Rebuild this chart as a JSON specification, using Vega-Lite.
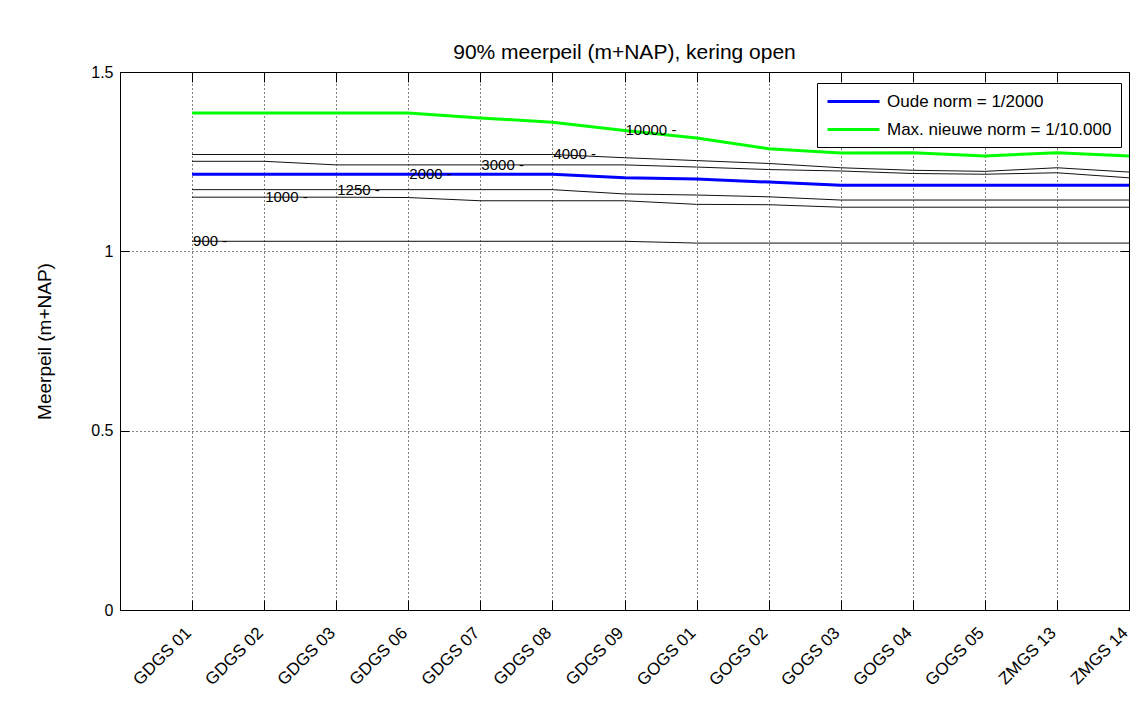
{
  "$schema": "https://vega.github.io/schema/vega-lite/v6.json",
  "width": 1009,
  "height": 538,
  "autosize": {"type": "none"},
  "padding": {"left": 120, "top": 72, "right": 13, "bottom": 105},
  "background": "white",
  "title": {"text": "90% meerpeil (m+NAP), kering open", "fontSize": 21, "font": "Liberation Sans", "fontWeight": "normal", "color": "black", "offset": 1, "anchor": "middle"},
  "datasets": {
    "lines": [
      {"idx": 1, "station": "GDGS 01", "contour": 900, "level": 1.028, "norm": ""},
      {"idx": 2, "station": "GDGS 02", "contour": 900, "level": 1.028, "norm": ""},
      {"idx": 3, "station": "GDGS 03", "contour": 900, "level": 1.028, "norm": ""},
      {"idx": 4, "station": "GDGS 06", "contour": 900, "level": 1.028, "norm": ""},
      {"idx": 5, "station": "GDGS 07", "contour": 900, "level": 1.028, "norm": ""},
      {"idx": 6, "station": "GDGS 08", "contour": 900, "level": 1.028, "norm": ""},
      {"idx": 7, "station": "GDGS 09", "contour": 900, "level": 1.028, "norm": ""},
      {"idx": 8, "station": "GOGS 01", "contour": 900, "level": 1.023, "norm": ""},
      {"idx": 9, "station": "GOGS 02", "contour": 900, "level": 1.023, "norm": ""},
      {"idx": 10, "station": "GOGS 03", "contour": 900, "level": 1.023, "norm": ""},
      {"idx": 11, "station": "GOGS 04", "contour": 900, "level": 1.023, "norm": ""},
      {"idx": 12, "station": "GOGS 05", "contour": 900, "level": 1.023, "norm": ""},
      {"idx": 13, "station": "ZMGS 13", "contour": 900, "level": 1.023, "norm": ""},
      {"idx": 14, "station": "ZMGS 14", "contour": 900, "level": 1.023, "norm": ""},

      {"idx": 1, "station": "GDGS 01", "contour": 1000, "level": 1.151, "norm": ""},
      {"idx": 2, "station": "GDGS 02", "contour": 1000, "level": 1.151, "norm": ""},
      {"idx": 3, "station": "GDGS 03", "contour": 1000, "level": 1.151, "norm": ""},
      {"idx": 4, "station": "GDGS 06", "contour": 1000, "level": 1.150, "norm": ""},
      {"idx": 5, "station": "GDGS 07", "contour": 1000, "level": 1.141, "norm": ""},
      {"idx": 6, "station": "GDGS 08", "contour": 1000, "level": 1.141, "norm": ""},
      {"idx": 7, "station": "GDGS 09", "contour": 1000, "level": 1.141, "norm": ""},
      {"idx": 8, "station": "GOGS 01", "contour": 1000, "level": 1.131, "norm": ""},
      {"idx": 9, "station": "GOGS 02", "contour": 1000, "level": 1.130, "norm": ""},
      {"idx": 10, "station": "GOGS 03", "contour": 1000, "level": 1.123, "norm": ""},
      {"idx": 11, "station": "GOGS 04", "contour": 1000, "level": 1.123, "norm": ""},
      {"idx": 12, "station": "GOGS 05", "contour": 1000, "level": 1.123, "norm": ""},
      {"idx": 13, "station": "ZMGS 13", "contour": 1000, "level": 1.123, "norm": ""},
      {"idx": 14, "station": "ZMGS 14", "contour": 1000, "level": 1.123, "norm": ""},

      {"idx": 1, "station": "GDGS 01", "contour": 1250, "level": 1.172, "norm": ""},
      {"idx": 2, "station": "GDGS 02", "contour": 1250, "level": 1.172, "norm": ""},
      {"idx": 3, "station": "GDGS 03", "contour": 1250, "level": 1.172, "norm": ""},
      {"idx": 4, "station": "GDGS 06", "contour": 1250, "level": 1.172, "norm": ""},
      {"idx": 5, "station": "GDGS 07", "contour": 1250, "level": 1.172, "norm": ""},
      {"idx": 6, "station": "GDGS 08", "contour": 1250, "level": 1.172, "norm": ""},
      {"idx": 7, "station": "GDGS 09", "contour": 1250, "level": 1.160, "norm": ""},
      {"idx": 8, "station": "GOGS 01", "contour": 1250, "level": 1.157, "norm": ""},
      {"idx": 9, "station": "GOGS 02", "contour": 1250, "level": 1.152, "norm": ""},
      {"idx": 10, "station": "GOGS 03", "contour": 1250, "level": 1.143, "norm": ""},
      {"idx": 11, "station": "GOGS 04", "contour": 1250, "level": 1.143, "norm": ""},
      {"idx": 12, "station": "GOGS 05", "contour": 1250, "level": 1.143, "norm": ""},
      {"idx": 13, "station": "ZMGS 13", "contour": 1250, "level": 1.143, "norm": ""},
      {"idx": 14, "station": "ZMGS 14", "contour": 1250, "level": 1.143, "norm": ""},

      {"idx": 1, "station": "GDGS 01", "contour": 3000, "level": 1.251, "norm": ""},
      {"idx": 2, "station": "GDGS 02", "contour": 3000, "level": 1.251, "norm": ""},
      {"idx": 3, "station": "GDGS 03", "contour": 3000, "level": 1.241, "norm": ""},
      {"idx": 4, "station": "GDGS 06", "contour": 3000, "level": 1.241, "norm": ""},
      {"idx": 5, "station": "GDGS 07", "contour": 3000, "level": 1.241, "norm": ""},
      {"idx": 6, "station": "GDGS 08", "contour": 3000, "level": 1.241, "norm": ""},
      {"idx": 7, "station": "GDGS 09", "contour": 3000, "level": 1.241, "norm": ""},
      {"idx": 8, "station": "GOGS 01", "contour": 3000, "level": 1.235, "norm": ""},
      {"idx": 9, "station": "GOGS 02", "contour": 3000, "level": 1.228, "norm": ""},
      {"idx": 10, "station": "GOGS 03", "contour": 3000, "level": 1.224, "norm": ""},
      {"idx": 11, "station": "GOGS 04", "contour": 3000, "level": 1.217, "norm": ""},
      {"idx": 12, "station": "GOGS 05", "contour": 3000, "level": 1.215, "norm": ""},
      {"idx": 13, "station": "ZMGS 13", "contour": 3000, "level": 1.219, "norm": ""},
      {"idx": 14, "station": "ZMGS 14", "contour": 3000, "level": 1.205, "norm": ""},

      {"idx": 1, "station": "GDGS 01", "contour": 4000, "level": 1.270, "norm": ""},
      {"idx": 2, "station": "GDGS 02", "contour": 4000, "level": 1.270, "norm": ""},
      {"idx": 3, "station": "GDGS 03", "contour": 4000, "level": 1.270, "norm": ""},
      {"idx": 4, "station": "GDGS 06", "contour": 4000, "level": 1.270, "norm": ""},
      {"idx": 5, "station": "GDGS 07", "contour": 4000, "level": 1.270, "norm": ""},
      {"idx": 6, "station": "GDGS 08", "contour": 4000, "level": 1.270, "norm": ""},
      {"idx": 7, "station": "GDGS 09", "contour": 4000, "level": 1.261, "norm": ""},
      {"idx": 8, "station": "GOGS 01", "contour": 4000, "level": 1.253, "norm": ""},
      {"idx": 9, "station": "GOGS 02", "contour": 4000, "level": 1.245, "norm": ""},
      {"idx": 10, "station": "GOGS 03", "contour": 4000, "level": 1.233, "norm": ""},
      {"idx": 11, "station": "GOGS 04", "contour": 4000, "level": 1.226, "norm": ""},
      {"idx": 12, "station": "GOGS 05", "contour": 4000, "level": 1.223, "norm": ""},
      {"idx": 13, "station": "ZMGS 13", "contour": 4000, "level": 1.233, "norm": ""},
      {"idx": 14, "station": "ZMGS 14", "contour": 4000, "level": 1.221, "norm": ""},

      {"idx": 1, "station": "GDGS 01", "contour": 2000, "level": 1.215, "norm": "Oude norm = 1/2000"},
      {"idx": 2, "station": "GDGS 02", "contour": 2000, "level": 1.215, "norm": "Oude norm = 1/2000"},
      {"idx": 3, "station": "GDGS 03", "contour": 2000, "level": 1.215, "norm": "Oude norm = 1/2000"},
      {"idx": 4, "station": "GDGS 06", "contour": 2000, "level": 1.215, "norm": "Oude norm = 1/2000"},
      {"idx": 5, "station": "GDGS 07", "contour": 2000, "level": 1.215, "norm": "Oude norm = 1/2000"},
      {"idx": 6, "station": "GDGS 08", "contour": 2000, "level": 1.215, "norm": "Oude norm = 1/2000"},
      {"idx": 7, "station": "GDGS 09", "contour": 2000, "level": 1.205, "norm": "Oude norm = 1/2000"},
      {"idx": 8, "station": "GOGS 01", "contour": 2000, "level": 1.202, "norm": "Oude norm = 1/2000"},
      {"idx": 9, "station": "GOGS 02", "contour": 2000, "level": 1.193, "norm": "Oude norm = 1/2000"},
      {"idx": 10, "station": "GOGS 03", "contour": 2000, "level": 1.184, "norm": "Oude norm = 1/2000"},
      {"idx": 11, "station": "GOGS 04", "contour": 2000, "level": 1.184, "norm": "Oude norm = 1/2000"},
      {"idx": 12, "station": "GOGS 05", "contour": 2000, "level": 1.184, "norm": "Oude norm = 1/2000"},
      {"idx": 13, "station": "ZMGS 13", "contour": 2000, "level": 1.184, "norm": "Oude norm = 1/2000"},
      {"idx": 14, "station": "ZMGS 14", "contour": 2000, "level": 1.184, "norm": "Oude norm = 1/2000"},

      {"idx": 1, "station": "GDGS 01", "contour": 10000, "level": 1.386, "norm": "Max. nieuwe norm = 1/10.000"},
      {"idx": 2, "station": "GDGS 02", "contour": 10000, "level": 1.386, "norm": "Max. nieuwe norm = 1/10.000"},
      {"idx": 3, "station": "GDGS 03", "contour": 10000, "level": 1.386, "norm": "Max. nieuwe norm = 1/10.000"},
      {"idx": 4, "station": "GDGS 06", "contour": 10000, "level": 1.386, "norm": "Max. nieuwe norm = 1/10.000"},
      {"idx": 5, "station": "GDGS 07", "contour": 10000, "level": 1.372, "norm": "Max. nieuwe norm = 1/10.000"},
      {"idx": 6, "station": "GDGS 08", "contour": 10000, "level": 1.360, "norm": "Max. nieuwe norm = 1/10.000"},
      {"idx": 7, "station": "GDGS 09", "contour": 10000, "level": 1.337, "norm": "Max. nieuwe norm = 1/10.000"},
      {"idx": 8, "station": "GOGS 01", "contour": 10000, "level": 1.316, "norm": "Max. nieuwe norm = 1/10.000"},
      {"idx": 9, "station": "GOGS 02", "contour": 10000, "level": 1.286, "norm": "Max. nieuwe norm = 1/10.000"},
      {"idx": 10, "station": "GOGS 03", "contour": 10000, "level": 1.274, "norm": "Max. nieuwe norm = 1/10.000"},
      {"idx": 11, "station": "GOGS 04", "contour": 10000, "level": 1.275, "norm": "Max. nieuwe norm = 1/10.000"},
      {"idx": 12, "station": "GOGS 05", "contour": 10000, "level": 1.266, "norm": "Max. nieuwe norm = 1/10.000"},
      {"idx": 13, "station": "ZMGS 13", "contour": 10000, "level": 1.275, "norm": "Max. nieuwe norm = 1/10.000"},
      {"idx": 14, "station": "ZMGS 14", "contour": 10000, "level": 1.266, "norm": "Max. nieuwe norm = 1/10.000"}
    ],
    "labels": [
      {"idx": 1, "level": 1.028, "text": "900 -"},
      {"idx": 2, "level": 1.151, "text": "1000 -"},
      {"idx": 3, "level": 1.172, "text": "1250 -"},
      {"idx": 4, "level": 1.215, "text": "2000 -"},
      {"idx": 5, "level": 1.241, "text": "3000 -"},
      {"idx": 6, "level": 1.270, "text": "4000 -"},
      {"idx": 7, "level": 1.337, "text": "10000 -"}
    ]
  },
  "layer": [
    {
      "data": {"name": "lines"},
      "transform": [{"filter": "datum.norm == ''"}],
      "mark": {"type": "line", "color": "#111111", "strokeWidth": 1},
      "encoding": {
        "x": {"field": "idx", "type": "quantitative", "scale": {"domain": [0, 14], "nice": false, "zero": false},
          "axis": {"orient": "bottom", "values": [1,2,3,4,5,6,7,8,9,10,11,12,13,14],
            "labelExpr": "['', 'GDGS 01', 'GDGS 02', 'GDGS 03', 'GDGS 06', 'GDGS 07', 'GDGS 08', 'GDGS 09', 'GOGS 01', 'GOGS 02', 'GOGS 03', 'GOGS 04', 'GOGS 05', 'ZMGS 13', 'ZMGS 14'][datum.value]",
            "labelAngle": -45, "labelAlign": "right", "labelBaseline": "middle", "labelOffset": -4, "tickSize": -10, "labelPadding": 30, "grid": true, "domain": false, "title": null, "labelFontSize": 17}},
        "y": {"field": "level", "type": "quantitative", "scale": {"domain": [0, 1.5], "nice": false},
          "axis": {"orient": "left", "values": [0, 0.5, 1, 1.5], "format": "~g", "tickSize": -9, "labelPadding": 16, "grid": true, "domain": false, "title": "Meerpeil (m+NAP)", "titlePadding": 36, "titleFontSize": 19, "labelFontSize": 16}},
        "detail": {"field": "contour", "type": "nominal"}
      }
    },
    {
      "data": {"name": "lines"},
      "transform": [{"filter": "datum.norm != ''"}],
      "mark": {"type": "line", "strokeWidth": 3},
      "encoding": {
        "x": {"field": "idx", "type": "quantitative", "axis": null},
        "y": {"field": "level", "type": "quantitative", "axis": null},
        "color": {"field": "norm", "type": "nominal",
          "scale": {"domain": ["Oude norm = 1/2000", "Max. nieuwe norm = 1/10.000"], "range": ["#0000ff", "#00ff00"]},
          "legend": {"orient": "none", "legendX": 697, "legendY": 11, "title": null, "strokeColor": "black", "fillColor": "white", "padding": 9,
            "symbolType": "M-1,0H5.5", "symbolSize": 256, "symbolStrokeWidth": 3, "labelFontSize": 17, "labelFont": "Liberation Sans", "labelColor": "black",
            "labelOffset": 42, "rowPadding": 10, "labelLimit": 400}}
      }
    },
    {
      "data": {"name": "labels"},
      "mark": {"type": "text", "align": "left", "baseline": "middle", "dx": 1, "fontSize": 15, "font": "Liberation Sans", "color": "black"},
      "encoding": {
        "x": {"field": "idx", "type": "quantitative",
          "axis": {"orient": "top", "values": [1,2,3,4,5,6,7,8,9,10,11,12,13,14], "labels": false, "tickSize": -10, "grid": false, "domain": false, "title": null}},
        "y": {"field": "level", "type": "quantitative",
          "axis": {"orient": "right", "values": [0, 0.5, 1, 1.5], "labels": false, "tickSize": -9, "grid": false, "domain": false, "title": null}},
        "text": {"field": "text"}
      }
    }
  ],
  "resolve": {"axis": {"x": "independent", "y": "independent"}},
  "config": {
    "view": {"stroke": "black", "strokeWidth": 1},
    "axis": {"labelFont": "Liberation Sans", "titleFont": "Liberation Sans", "labelColor": "black", "titleColor": "black", "titleFontWeight": "normal",
      "tickColor": "black", "tickWidth": 1, "gridColor": "black", "gridDash": [1, 3], "gridOpacity": 1, "gridWidth": 1}
  }
}
